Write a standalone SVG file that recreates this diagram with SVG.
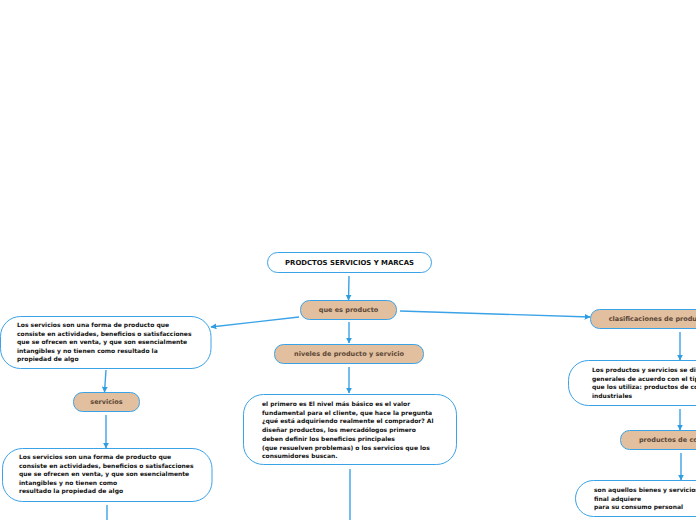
<svg xmlns="http://www.w3.org/2000/svg" width="696" height="520" viewBox="0 0 696 520">
<defs>
<marker id="ah" viewBox="0 0 10 10" refX="9" refY="5" markerWidth="6" markerHeight="6" orient="auto" markerUnits="userSpaceOnUse">
<path d="M0,0 L10,5 L0,10 z" fill="#2f9de3"/>
</marker>
<style>
.w{fill:#ffffff;stroke:#3aa2e6;stroke-width:1}
.t{fill:#e2bf9e;stroke:#3aa2e6;stroke-width:1}
.c{fill:none;stroke:#3aa2e6;stroke-width:1.4}
.ca{fill:none;stroke:#3aa2e6;stroke-width:1.4;marker-end:url(#ah)}
text{font-family:"DejaVu Sans",Verdana,sans-serif;font-weight:bold}
.bt{font-size:6px;fill:#111111}
.tt{font-size:6.5px;fill:#5a4636;text-anchor:middle}
.rt{font-size:6.9px;fill:#111111;text-anchor:middle}
</style>
</defs>
<rect width="696" height="520" fill="#ffffff"/>
<g id="connectors">
<path class="ca" d="M349,276 L348.5,300"/>
<path class="ca" d="M299,317 L211,327"/>
<path class="ca" d="M400,311 L590,317"/>
<path class="ca" d="M349,322 L349,343"/>
<path class="ca" d="M349,367 L349,393"/>
<path class="c" d="M350,469 L350,520"/>
<path class="ca" d="M106,370 L104.5,392"/>
<path class="ca" d="M106,415 L106,448"/>
<path class="c" d="M107,505 L107,520"/>
<path class="ca" d="M680,332 L680,360"/>
<path class="ca" d="M680,409 L680,430"/>
<path class="ca" d="M681,453 L681,480"/>
</g>
<g id="root">
<rect class="w" x="267.5" y="252.5" width="164" height="20" rx="10"/>
<text class="rt" x="349.5" y="264.8">PRODCTOS SERVICIOS Y MARCAS</text>
</g>
<g id="que-es-producto">
<rect class="t" x="300.5" y="300.5" width="96" height="19" rx="9"/>
<text class="tt" x="348.5" y="312">que es producto</text>
</g>
<g id="niveles">
<rect class="t" x="274.5" y="344.5" width="149" height="19" rx="9"/>
<text class="tt" x="349" y="356">niveles de producto y servicio</text>
</g>
<g id="niveles-texto">
<rect class="w" x="243.5" y="394.5" width="213" height="70" rx="20"/>
<text class="bt" x="262" y="406">el primero es El nivel más básico es el valor</text>
<text class="bt" x="262" y="414.7">fundamental para el cliente, que hace la pregunta</text>
<text class="bt" x="262" y="423.4">¿qué está adquiriendo realmente el comprador? Al</text>
<text class="bt" x="262" y="432.1">diseñar productos, los mercadólogos primero</text>
<text class="bt" x="262" y="440.8">deben definir los beneficios principales</text>
<text class="bt" x="262" y="449.5">(que resuelven problemas) o los servicios que los</text>
<text class="bt" x="262" y="458.2">consumidores buscan.</text>
</g>
<g id="servicios-def-1">
<rect class="w" x="0.5" y="316.5" width="210.5" height="52" rx="20"/>
<text class="bt" x="17" y="327">Los servicios son una forma de producto que</text>
<text class="bt" x="17" y="335.6">consiste en actividades, beneficios o satisfacciones</text>
<text class="bt" x="17" y="344.2">que se ofrecen en venta, y que son esencialmente</text>
<text class="bt" x="17" y="352.8">intangibles y no tienen como resultado la</text>
<text class="bt" x="17" y="361.4">propiedad de algo</text>
</g>
<g id="servicios">
<rect class="t" x="73.5" y="392.5" width="66" height="19" rx="9"/>
<text class="tt" x="106.5" y="404">servicios</text>
</g>
<g id="servicios-def-2">
<rect class="w" x="2.5" y="448.5" width="209.5" height="53" rx="20"/>
<text class="bt" x="19" y="459">Los servicios son una forma de producto que</text>
<text class="bt" x="19" y="467.6">consiste en actividades, beneficios o satisfacciones</text>
<text class="bt" x="19" y="476.2">que se ofrecen en venta, y que son esencialmente</text>
<text class="bt" x="19" y="484.8">intangibles y no tienen como</text>
<text class="bt" x="19" y="493.4">resultado la propiedad de algo</text>
</g>
<g id="clasificaciones">
<rect class="t" x="590.5" y="309.5" width="140" height="19" rx="9"/>
<text class="tt" x="660.5" y="321">clasificaciones de productos</text>
</g>
<g id="clasificaciones-texto">
<rect class="w" x="568.5" y="360.5" width="180" height="45" rx="20"/>
<text class="bt" x="592" y="372">Los productos y servicios se dividen</text>
<text class="bt" x="592" y="380.6">generales de acuerdo con el tipo</text>
<text class="bt" x="592" y="389.2">que los utiliza: productos de consumo</text>
<text class="bt" x="592" y="397.8">industriales</text>
</g>
<g id="productos-consumo">
<rect class="t" x="620.5" y="430.5" width="120" height="19" rx="9"/>
<text class="tt" x="680.5" y="442">productos de consumo</text>
</g>
<g id="consumo-texto">
<rect class="w" x="575.5" y="480.5" width="180" height="36" rx="18"/>
<text class="bt" x="594" y="492">son aquellos bienes y servicios que</text>
<text class="bt" x="594" y="500.6">final adquiere</text>
<text class="bt" x="594" y="509.2">para su consumo personal</text>
</g>
</svg>
